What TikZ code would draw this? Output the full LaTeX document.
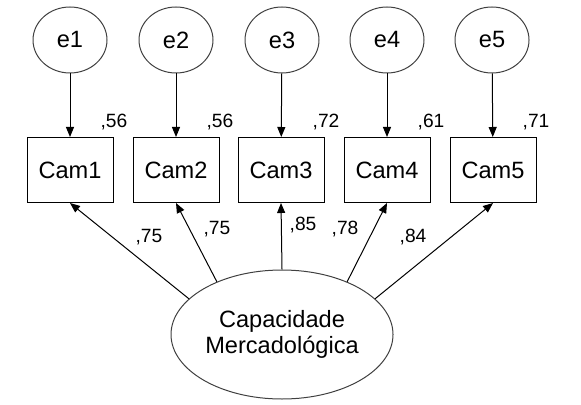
\documentclass[tikz,border=0pt]{standalone}
\usepackage{fontspec}
\setmainfont{Liberation Sans}
\usetikzlibrary{arrows.meta, shapes.geometric}

\begin{document}
\begin{tikzpicture}[
    x=0.5pt, y=-0.5pt,
    line width=0.5pt,
    >={Triangle[length=5pt,width=4pt]},
    every node/.style={font=\fontsize{11.8}{13}\selectfont},
    err/.style={draw=black!75, ellipse, minimum width=37pt, minimum height=33pt, inner sep=0pt},
    obs/.style={draw, rectangle, minimum width=43pt, minimum height=32.5pt, inner sep=0pt},
    lat/.style={draw=black!75, ellipse, minimum width=111pt, minimum height=64.5pt,
                align=center, inner sep=0pt},
    coef/.style={font=\fontsize{9.6}{11}\selectfont, inner sep=0pt},
    link/.style={->},
]
    \useasboundingbox (0,0) rectangle (581,405);

    % Error terms (top row)
    \node[err] (E1) at (70,  40) {e1};
    \node[err] (E2) at (176, 40) {e2};
    \node[err] (E3) at (282, 40) {e3};
    \node[err] (E4) at (387, 40) {e4};
    \node[err] (E5) at (492, 40) {e5};

    % Observed items (middle row)
    \node[obs] (C1) at (70,  170) {Cam1};
    \node[obs] (C2) at (176, 170) {Cam2};
    \node[obs] (C3) at (281, 170) {Cam3};
    \node[obs] (C4) at (387, 170) {Cam4};
    \node[obs] (C5) at (493, 170) {Cam5};

    % Latent factor
    \node[lat] (F) at (282, 334.5) {Capacidade\\Mercadológica};

    % Error arrows
    \draw[link] (E1) -- (C1);
    \draw[link] (E2) -- (C2);
    \draw[link] (E3) -- (C3);
    \draw[link] (E4) -- (C4);
    \draw[link] (E5) -- (C5);

    % Loadings
    \draw[link] (F.159)  -- (C1.south);
    \draw[link] (F.141)  -- (C2.south);
    \draw[link] (F.north) -- (C3.south);
    \draw[link] (F.39)   -- (C4.south);
    \draw[link] (F.21)   -- (C5.south);

    % Squared multiple correlations
    \node[coef] (R1) at (114, 122) {,56};
    \node[coef] (R2) at (220, 122) {,56};
    \node[coef] (R3) at (326, 122) {,72};
    \node[coef] (R4) at (431, 122) {,61};
    \node[coef] (R5) at (536, 122) {,71};

    % Loading values
    \node[coef] (L1) at (149, 237) {,75};
    \node[coef] (L2) at (217, 229) {,75};
    \node[coef] (L3) at (303, 225) {,85};
    \node[coef] (L4) at (345, 229) {,78};
    \node[coef] (L5) at (413, 237) {,84};
\end{tikzpicture}
\end{document}
